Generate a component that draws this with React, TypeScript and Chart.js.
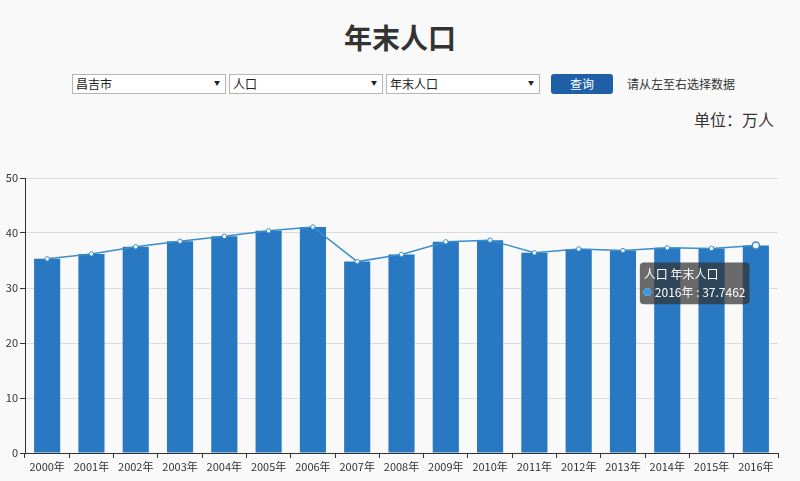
import React, { useEffect, useRef } from "react";
import { Chart, registerables, Tooltip } from "chart.js";

Chart.register(...registerables);

const categories = ["2000年","2001年","2002年","2003年","2004年","2005年","2006年","2007年","2008年","2009年","2010年","2011年","2012年","2013年","2014年","2015年","2016年"];
const population = [35.3, 36.2, 37.5, 38.5, 39.4, 40.4, 41.1, 34.8, 36.1, 38.4, 38.7, 36.4, 37.1, 36.8, 37.3, 37.2, 37.7462];
const yTicks = { min: 0, max: 50, step: 10 };
const tooltipTitle = "人口 年末人口";
const highlightIndex = 16;

const FONT = '"Noto Sans CJK SC", "Microsoft YaHei", sans-serif';
const BAR = "#2878c2";
const LINE = "#3a8ecb";

(Tooltip.positioners as any).nearPoint = function (elements: any[]) {
  if (!elements.length) return false;
  const el = elements[0].element;
  return { x: el.x - 112, y: el.y + 17 };
};

function ChartBox() {
  const ref = useRef<HTMLCanvasElement>(null);
  useEffect(() => {
    if (!ref.current) return;
    const chart = new Chart(ref.current, {
      type: "bar",
      data: {
        labels: categories,
        datasets: [
          {
            type: "line",
            data: population,
            borderColor: LINE,
            borderWidth: 1.5,
            backgroundColor: "#ffffff",
            pointBackgroundColor: "#ffffff",
            pointBorderColor: LINE,
            pointBorderWidth: 1,
            pointRadius: 2.2,
            pointHoverRadius: 3.5,
            pointHoverBorderWidth: 1.5,
            pointHoverBackgroundColor: "#ffffff",
            pointHoverBorderColor: LINE,
            tension: 0,
            order: 0,
          } as any,
          {
            type: "bar",
            data: population,
            backgroundColor: BAR,
            hoverBackgroundColor: BAR,
            borderWidth: 0,
            categoryPercentage: 1,
            barPercentage: 0.59,
            order: 1,
          } as any,
        ],
      },
      options: {
        animation: false,
        responsive: true,
        maintainAspectRatio: false,
        events: [],
        layout: { padding: { top: 18, right: 22, left: 0, bottom: 0 } },
        plugins: {
          legend: { display: false },
          tooltip: {
            enabled: true,
            position: "nearPoint" as any,
            xAlign: "left",
            yAlign: "top",
            caretSize: 0,
            caretPadding: 0,
            backgroundColor: "rgba(50,50,50,0.72)",
            cornerRadius: 4,
            padding: { left: 4, right: 4, top: 5, bottom: 5 },
            titleFont: { family: FONT, size: 12, weight: "normal" },
            bodyFont: { family: FONT, size: 12 },
            titleColor: "#fff",
            bodyColor: "#fff",
            titleMarginBottom: 3,
            usePointStyle: true,
            boxWidth: 7,
            boxHeight: 7,
            boxPadding: 2,
            displayColors: true,
            callbacks: {
              title: () => tooltipTitle,
              label: (ctx: any) => `${ctx.label} : ${ctx.raw}`,
              labelColor: () => ({ borderColor: "#3a9ae0", backgroundColor: "#3a9ae0", borderWidth: 0 }),
              labelPointStyle: () => ({ pointStyle: "circle", rotation: 0 }),
            },
          },
        },
        scales: {
          x: {
            offset: true,
            grid: {
              offset: true,
              drawOnChartArea: false,
              tickColor: "#333",
              tickLength: 5,
            },
            border: { color: "#333", width: 1 },
            ticks: {
              color: "#333",
              font: { family: FONT, size: 11 },
              padding: 2,
              maxRotation: 0,
              autoSkip: false,
            },
            afterFit: (s: any) => { s.height = 28; },
          },
          y: {
            min: yTicks.min,
            max: yTicks.max,
            ticks: {
              stepSize: yTicks.step,
              color: "#333",
              font: { family: FONT, size: 11 },
              padding: 2,
            },
            grid: {
              color: "#dcdcdc",
              tickColor: "#333",
              tickLength: 5,
            },
            border: { color: "#333", width: 1 },
            afterFit: (s: any) => { s.width = 25; },
          },
        },
      },
    });
    const active = [{ datasetIndex: 0, index: highlightIndex }];
    chart.setActiveElements(active);
    chart.tooltip?.setActiveElements(active, { x: 0, y: 0 });
    chart.update();
    return () => chart.destroy();
  }, []);
  return <canvas ref={ref} />;
}

const selectStyle: React.CSSProperties = {
  position: "absolute",
  top: 74,
  height: 20,
  width: 154,
  boxSizing: "border-box",
  border: "1px solid #b5b5b5",
  background: "#fff",
  fontSize: 12,
  lineHeight: "18px",
  paddingLeft: 3,
  color: "#222",
  fontFamily: FONT,
};

function FakeSelect({ left, text }: { left: number; text: string }) {
  return (
    <div style={{ ...selectStyle, left }}>
      {text}
      <span style={{ position: "absolute", right: 5, top: -1, fontSize: 6, color: "#222" }}>▼</span>
    </div>
  );
}

export default function App() {
  return (
    <div style={{ position: "absolute", left: 0, top: 0, width: 800, height: 481, background: "#f9f9f9", fontFamily: FONT, overflow: "hidden" }}>
      <div style={{ position: "absolute", top: 16, left: 0, width: 800, textAlign: "center", fontSize: 28, fontWeight: "bold", color: "#333", lineHeight: "42px" }}>
        年末人口
      </div>
      <FakeSelect left={72} text="昌吉市" />
      <FakeSelect left={229} text="人口" />
      <FakeSelect left={386} text="年末人口" />
      <div style={{ position: "absolute", left: 551, top: 74, width: 62, height: 20, background: "#1f5fa8", borderRadius: 3, color: "#fff", fontSize: 12, lineHeight: "20px", textAlign: "center" }}>
        查询
      </div>
      <div style={{ position: "absolute", left: 627, top: 74, fontSize: 12, lineHeight: "20px", color: "#333" }}>
        请从左至右选择数据
      </div>
      <div style={{ position: "absolute", left: 694, top: 107, fontSize: 16, lineHeight: "24px", color: "#333" }}>
        单位：万人
      </div>
      <div style={{ position: "absolute", left: 0, top: 160, width: 800, height: 321 }}>
        <ChartBox />
      </div>
    </div>
  );
}
